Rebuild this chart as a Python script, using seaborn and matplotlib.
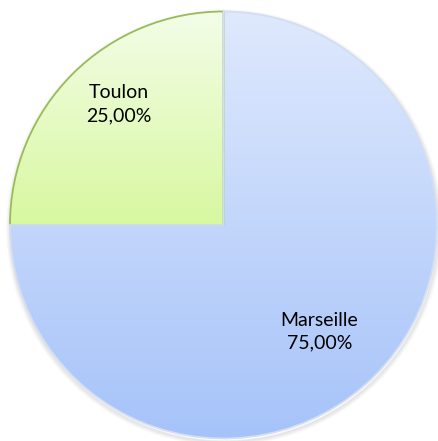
import numpy as np
import matplotlib
matplotlib.use("Agg")
import matplotlib.pyplot as plt
import matplotlib.patches as mpatches
import seaborn as sns

# ---- data ----
cities = ["Toulon", "Marseille"]
shares = [25.0, 75.0]
label_texts = ["Toulon\n25,00%", "Marseille\n75,00%"]

sns.set_theme(style="white")
plt.rcParams["font.family"] = ["Lato", "DejaVu Sans"]

W, H = 438, 441
fig = plt.figure(figsize=(W / 100, H / 100), dpi=100)
ax = fig.add_axes([0, 0, 1, 1])

cx, cy, r = 223.5, H - 225.0, 213.5

# soft shadow
for k in range(8):
    ax.add_patch(mpatches.Circle((cx + 0.8, cy - 2.5), r + k * 0.6,
                                 facecolor="none", edgecolor="#7f7f7f",
                                 lw=1.2, alpha=0.09 * (1 - k / 8), zorder=0))

wedges, _ = ax.pie(shares, startangle=90, counterclock=True,
                   center=(cx, cy), radius=r, frame=True,
                   wedgeprops=dict(linewidth=0))
ax.set_xlim(0, W)
ax.set_ylim(0, H)
ax.set_aspect("equal")
ax.axis("off")

grads = [
    ("#f3fde8", "#d8f8a0", "#9bbb59"),   # Toulon
    ("#dfe9fd", "#a6c3f9", "#d3def2"),   # Marseille
]

for w, (top, bot, edge) in zip(wedges, grads):
    w.set_facecolor("none")
    bbox = w.get_path().get_extents(w.get_patch_transform())
    x0, y0, x1, y1 = bbox.x0, bbox.y0, bbox.x1, bbox.y1
    ct = np.array(matplotlib.colors.to_rgb(top))
    cb = np.array(matplotlib.colors.to_rgb(bot))
    t = np.linspace(0, 1, 256)[:, None]
    img = (ct * (1 - t) + cb * t)[:, None, :]
    im = ax.imshow(img, extent=[x0, x1, y0, y1], origin="upper",
                   aspect="auto", zorder=1, interpolation="bilinear")
    im.set_clip_path(w)
    w.set_edgecolor(edge)
    w.set_linewidth(1.3)
    w.set_zorder(2)

ax.set_xlim(0, W)
ax.set_ylim(0, H)

# labels
theta = [(w.theta1 + w.theta2) / 2 for w in wedges]
dist = [0.75, 0.67]
adj = [-4, -3]
for txt, th, d, a in zip(label_texts, theta, dist, adj):
    rad = np.deg2rad(th + a)
    ax.text(cx + d * r * np.cos(rad), cy + d * r * np.sin(rad), txt,
            ha="center", va="center", fontsize=14, color="#000000",
            linespacing=1.4, zorder=3)

fig.savefig("out.png", dpi=100, facecolor="white")
